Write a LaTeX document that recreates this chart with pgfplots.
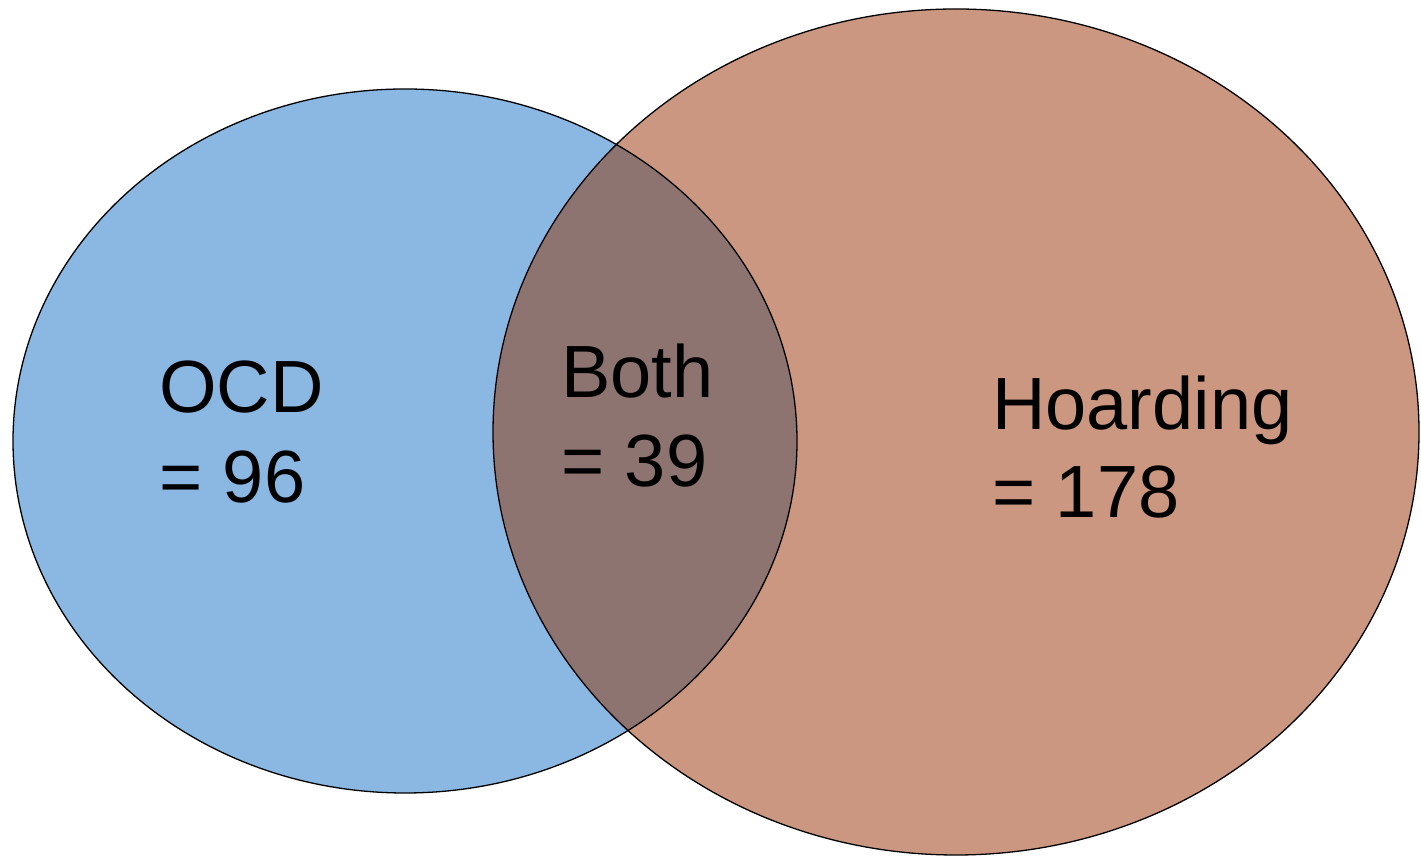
\documentclass[border=0pt]{standalone}
\usepackage{pgfplots}
\pgfplotsset{compat=1.18}
\usepackage{fontspec}
\setmainfont{Liberation Sans}
\definecolor{ocdblue}{HTML}{8AB8E3}
\definecolor{hoardsal}{HTML}{CB9780}
\definecolor{bothcol}{HTML}{8E7470}
\begin{document}
\begin{tikzpicture}
\begin{axis}[
  scale only axis, width=1421pt, height=856pt,
  xmin=0, xmax=1421, ymin=0, ymax=856,
  hide axis, clip=false]
\path[draw=none,fill=none] (axis cs:0,0) rectangle (axis cs:1421,856);
\fill[ocdblue] (axis cs:405,415) ellipse [x radius=392, y radius=352];
\fill[hoardsal] (axis cs:956,424) ellipse [x radius=463, y radius=423];
\begin{scope}
\clip (axis cs:405,415) ellipse [x radius=392, y radius=352];
\fill[bothcol] (axis cs:956,424) ellipse [x radius=463, y radius=423];
\end{scope}
\draw[black, line width=1.3pt] (axis cs:405,415) ellipse [x radius=392, y radius=352];
\draw[black, line width=1.3pt] (axis cs:956,424) ellipse [x radius=463, y radius=423];
\addplot[only marks, mark=none, nodes near coords, point meta=explicit symbolic,
  nodes near coords style={anchor=base west, inner sep=0pt, font=\fontsize{74}{90}\selectfont, text=black}]
  coordinates {(159,443) [OCD] (159,353) [= 96] (561,458) [Both] (561,369) [= 39] (992,426) [Hoarding] (992,338) [= 178]};
\end{axis}
\useasboundingbox (current axis.south west) rectangle (current axis.north east);
\end{tikzpicture}
\end{document}
